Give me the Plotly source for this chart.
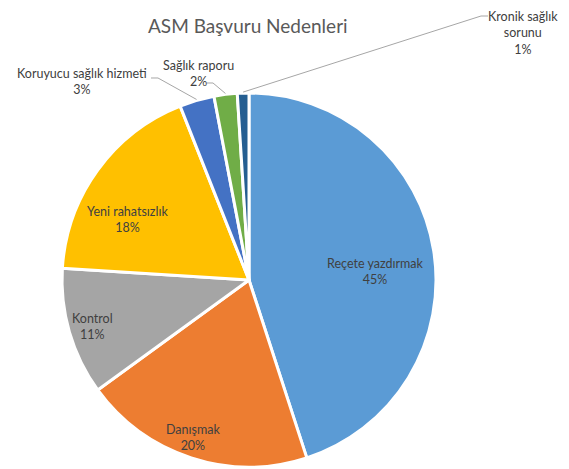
import math
import plotly.graph_objects as go

labels = ["Reçete yazdırmak", "Danışmak", "Kontrol", "Yeni rahatsızlık",
          "Koruyucu sağlık hizmeti", "Sağlık raporu", "Kronik sağlık sorunu"]
values = [45, 20, 11, 18, 3, 2, 1]
colors = ["#5B9BD5", "#ED7D31", "#A5A5A5", "#FFC000", "#4472C4", "#70AD47", "#255E91"]
title_text = "ASM Başvuru Nedenleri"
label_lines = ["Reçete yazdırmak", "Danışmak", "Kontrol", "Yeni rahatsızlık",
               "Koruyucu sağlık hizmeti", "Sağlık raporu", "Kronik sağlık<br>sorunu"]

W, H = 569, 469
cx, cy, R = 249, 280, 187
FONT = "Lato"
TXT = "#404040"
FS = 12.5

fig = go.Figure(go.Pie(
    labels=labels, values=values, sort=False, direction="clockwise", rotation=0,
    marker=dict(colors=colors, line=dict(color="white", width=3)),
    textinfo="none",
    domain=dict(x=[(cx - R) / W, (cx + R) / W], y=[(H - cy - R) / H, (H - cy + R) / H]),
    hoverinfo="label+percent", showlegend=False,
))

def P(x, y):
    return x / W, 1 - y / H

# label centre positions (pixels) and leader line start points
text_pos = {0: (375, 271), 1: (193, 437), 2: (92, 326), 3: (127, 219),
            4: (82, 82), 5: (198, 74), 6: (523, 33)}
leader_start = {4: [(151, 78), (158, 78)], 5: [(207, 83), (213, 83)],
                6: [(488, 16), (481, 16)]}

total = sum(values)
cum = 0
for i, v in enumerate(values):
    s, e = cum / total, (cum + v) / total
    cum += v
    tx, ty = text_pos[i]
    pct = round(100 * v / total)
    xx, yy = P(tx, ty)
    fig.add_annotation(
        x=xx, y=yy, xref="paper", yref="paper", showarrow=False,
        text=f"{label_lines[i]}<br>{pct}%", align="center",
        xanchor="center", yanchor="middle",
        font=dict(family=FONT, size=FS, color=TXT),
    )
    if i in leader_start:
        th = 2 * math.pi * (s + e) / 2
        px = cx + (R + 1) * math.sin(th)
        py = cy - (R + 1) * math.cos(th)
        pts = [P(*p) for p in leader_start[i]] + [P(px, py)]
        path = "M " + " L ".join(f"{a:.5f},{b:.5f}" for a, b in pts)
        fig.add_shape(type="path", path=path, xref="paper", yref="paper",
                      line=dict(color="#A6A6A6", width=1))

tx, ty = P(248, 25)
fig.add_annotation(
    x=tx, y=ty, xref="paper", yref="paper", showarrow=False,
    text=title_text, font=dict(family=FONT, size=19, color="#595959"),
    xanchor="center", yanchor="middle",
)

fig.update_layout(
    width=W, height=H, margin=dict(l=0, r=0, t=0, b=0),
    paper_bgcolor="white", plot_bgcolor="white",
)
fig.write_html("out.html")
